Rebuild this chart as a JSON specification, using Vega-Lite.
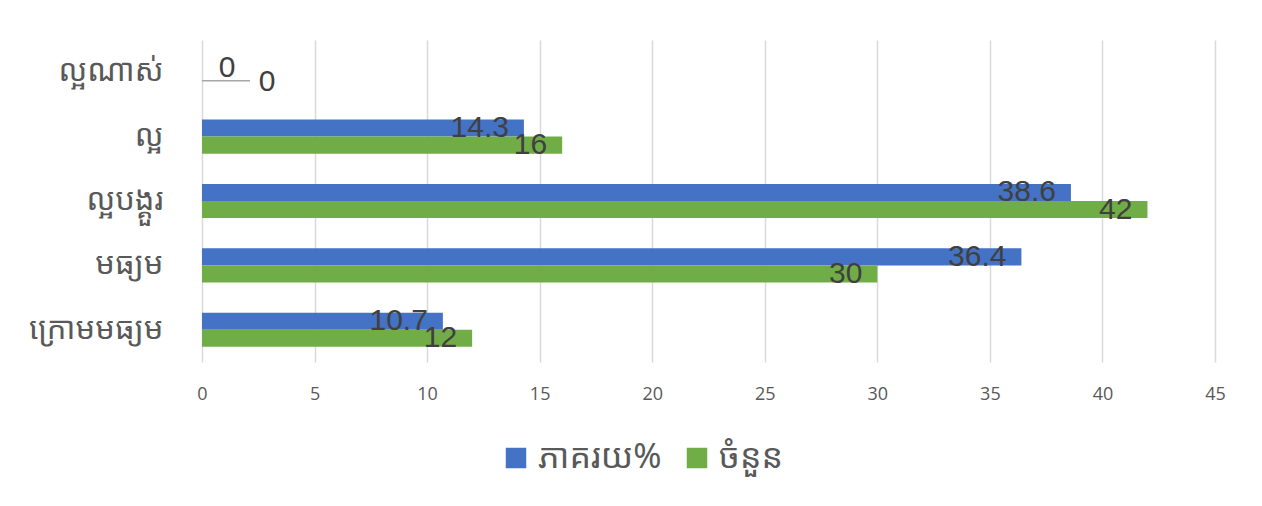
{
  "$schema": "https://vega.github.io/schema/vega-lite/v6.json",
  "autosize": {"type": "none"},
  "width": 1013,
  "height": 322,
  "padding": {"left": 202, "top": 40, "right": 47, "bottom": 144},
  "background": "white",
  "config": {"view": {"stroke": null}},
  "data": {"values": [
    {"cat": "ល្អណាស់", "series": "ភាគរយ%", "value": 0},
    {"cat": "ល្អណាស់", "series": "ចំនួន", "value": 0},
    {"cat": "ល្អ", "series": "ភាគរយ%", "value": 14.3},
    {"cat": "ល្អ", "series": "ចំនួន", "value": 16},
    {"cat": "ល្អបង្គួរ", "series": "ភាគរយ%", "value": 38.6},
    {"cat": "ល្អបង្គួរ", "series": "ចំនួន", "value": 42},
    {"cat": "មធ្យម", "series": "ភាគរយ%", "value": 36.4},
    {"cat": "មធ្យម", "series": "ចំនួន", "value": 30},
    {"cat": "ក្រោមមធ្យម", "series": "ភាគរយ%", "value": 10.7},
    {"cat": "ក្រោមមធ្យម", "series": "ចំនួន", "value": 12}
  ]},
  "encoding": {
    "y": {"field": "cat", "type": "nominal", "sort": null,
      "scale": {"paddingInner": 0.47, "paddingOuter": 0.235},
      "axis": {"title": null, "ticks": false, "domain": false, "labelFontSize": 31, "labelColor": "#595959", "labelPadding": 39, "labelFont": "Noto Sans Khmer, Khmer OS, sans-serif"}},
    "yOffset": {"field": "series", "type": "nominal", "sort": ["ភាគរយ%", "ចំនួន"]},
    "x": {"field": "value", "type": "quantitative",
      "scale": {"domain": [0, 45], "nice": false},
      "axis": {"title": null, "values": [0, 5, 10, 15, 20, 25, 30, 35, 40, 45], "ticks": false, "domain": false, "grid": true, "gridColor": "#d9d9d9", "gridWidth": 1.5, "labelFontSize": 18, "labelColor": "#595959", "labelPadding": 23, "labelFlush": false, "labelFont": "Open Sans"}}
  },
  "layer": [
    {
      "mark": {"type": "bar"},
      "encoding": {
        "color": {"field": "series", "type": "nominal", "sort": ["ភាគរយ%", "ចំនួន"],
          "scale": {"domain": ["ភាគរយ%", "ចំនួន"], "range": ["#4472C4", "#70AD47"]},
          "legend": {"title": null, "orient": "none", "legendX": 297, "legendY": 401, "direction": "horizontal", "symbolType": "square", "symbolSize": 420, "symbolStrokeWidth": 0, "labelFontSize": 34, "labelColor": "#595959", "labelFont": "Noto Sans Khmer, sans-serif", "columnPadding": 18, "labelOffset": 5, "labelLimit": 300}}
      }
    },
    {
      "transform": [{"filter": "datum.value > 0"}],
      "mark": {"type": "text", "align": "right", "baseline": "middle", "dx": -15, "fontSize": 30, "color": "#404040", "font": "Liberation Sans"},
      "encoding": {"text": {"field": "value", "type": "quantitative"}}
    },
    {
      "transform": [{"filter": "datum.value == 0 && datum.series == 'ភាគរយ%'"}],
      "mark": {"type": "text", "align": "center", "baseline": "middle", "dx": 25, "dy": 4, "fontSize": 30, "color": "#404040", "font": "Liberation Sans"},
      "encoding": {"text": {"field": "value", "type": "quantitative"}}
    },
    {
      "transform": [{"filter": "datum.value == 0 && datum.series == 'ចំនួន'"}],
      "mark": {"type": "text", "align": "center", "baseline": "middle", "dx": 65, "dy": 1, "fontSize": 30, "color": "#404040", "font": "Liberation Sans"},
      "encoding": {"text": {"field": "value", "type": "quantitative"}}
    },
    {
      "transform": [{"filter": "datum.value == 0 && datum.series == 'ចំនួន'"}],
      "mark": {"type": "rule", "color": "#a6a6a6", "strokeWidth": 1.5},
      "encoding": {"x": {"datum": 0}, "x2": {"datum": 2.13}}
    }
  ]
}
